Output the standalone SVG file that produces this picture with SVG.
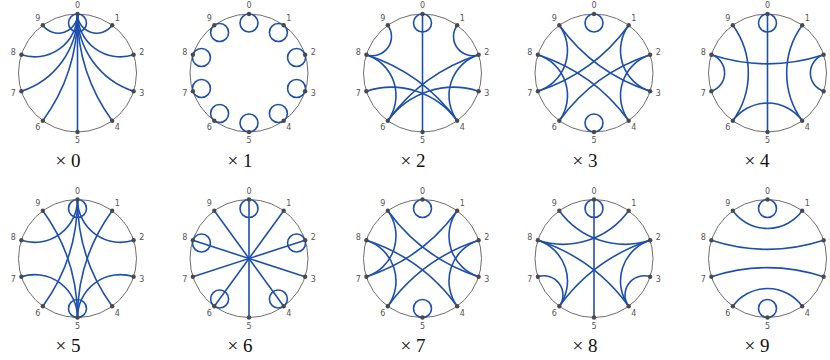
<svg xmlns="http://www.w3.org/2000/svg" xmlns:xlink="http://www.w3.org/1999/xlink" width="830" height="360" viewBox="0 0 830 360">
<style>
.ring{fill:none;stroke:#6e6e6e;stroke-width:1}
.dot{fill:#4a4a4a}
.lbl{font-family:"DejaVu Sans",sans-serif;font-size:8px;fill:#555;text-anchor:middle;dominant-baseline:central}
.edges path,.edges circle,.edges line{fill:none;stroke:#1d4fae;stroke-width:1.6}
.cap{font-family:"Liberation Serif",serif;font-size:19px;fill:#111;text-anchor:middle}
</style>
<defs>
<circle id="ring" class="ring" r="59"/>
<g id="nodes">
<g id="n0"><circle class="dot" cx="0" cy="-59" r="2.2"/><text class="lbl" x="0" y="-67.5">0</text></g>
<g id="n1"><circle class="dot" cx="34.68" cy="-47.73" r="2.2"/><text class="lbl" x="39.68" y="-54.61">1</text></g>
<g id="n2"><circle class="dot" cx="56.11" cy="-18.23" r="2.2"/><text class="lbl" x="64.2" y="-20.86">2</text></g>
<g id="n3"><circle class="dot" cx="56.11" cy="18.23" r="2.2"/><text class="lbl" x="64.2" y="20.86">3</text></g>
<g id="n4"><circle class="dot" cx="34.68" cy="47.73" r="2.2"/><text class="lbl" x="39.68" y="54.61">4</text></g>
<g id="n5"><circle class="dot" cx="0" cy="59" r="2.2"/><text class="lbl" x="0" y="67.5">5</text></g>
<g id="n6"><circle class="dot" cx="-34.68" cy="47.73" r="2.2"/><text class="lbl" x="-39.68" y="54.61">6</text></g>
<g id="n7"><circle class="dot" cx="-56.11" cy="18.23" r="2.2"/><text class="lbl" x="-64.2" y="20.86">7</text></g>
<g id="n8"><circle class="dot" cx="-56.11" cy="-18.23" r="2.2"/><text class="lbl" x="-64.2" y="-20.86">8</text></g>
<g id="n9"><circle class="dot" cx="-34.68" cy="-47.73" r="2.2"/><text class="lbl" x="-39.68" y="-54.61">9</text></g>
</g>
</defs>

<g id="mul0" transform="translate(77.5,73)">
<use xlink:href="#ring" href="#ring"/>
<g class="edges">
<circle cx="0" cy="-50" r="9"/>
<path d="M34.68,-47.73 A19.17,19.17 0 0 1 0,-59"/>
<path d="M56.11,-18.23 A42.87,42.87 0 0 1 0,-59"/>
<path d="M56.11,18.23 A81.21,81.21 0 0 1 0,-59"/>
<path d="M34.68,47.73 A181.58,181.58 0 0 1 0,-59"/>
<path d="M0,59 L0,-59"/>
<path d="M-34.68,47.73 A181.58,181.58 0 0 0 0,-59"/>
<path d="M-56.11,18.23 A81.21,81.21 0 0 0 0,-59"/>
<path d="M-56.11,-18.23 A42.87,42.87 0 0 0 0,-59"/>
<path d="M-34.68,-47.73 A19.17,19.17 0 0 0 0,-59"/>
</g>
<use xlink:href="#nodes" href="#nodes"/>
</g>

<g id="mul1" transform="translate(249,73)">
<use xlink:href="#ring" href="#ring"/>
<g class="edges">
<circle cx="0" cy="-50" r="9"/>
<circle cx="29.39" cy="-40.45" r="9"/>
<circle cx="47.55" cy="-15.45" r="9"/>
<circle cx="47.55" cy="15.45" r="9"/>
<circle cx="29.39" cy="40.45" r="9"/>
<circle cx="0" cy="50" r="9"/>
<circle cx="-29.39" cy="40.45" r="9"/>
<circle cx="-47.55" cy="15.45" r="9"/>
<circle cx="-47.55" cy="-15.45" r="9"/>
<circle cx="-29.39" cy="-40.45" r="9"/>
</g>
<use xlink:href="#nodes" href="#nodes"/>
</g>

<g id="mul2" transform="translate(422.5,73)">
<use xlink:href="#ring" href="#ring"/>
<g class="edges">
<circle cx="0" cy="-50" r="9"/>
<path d="M34.68,-47.73 A19.17,19.17 0 0 0 56.11,-18.23"/>
<path d="M56.11,-18.23 A42.87,42.87 0 0 0 34.68,47.73"/>
<path d="M56.11,18.23 A81.21,81.21 0 0 0 -34.68,47.73"/>
<path d="M34.68,47.73 A181.58,181.58 0 0 0 -56.11,-18.23"/>
<path d="M0,59 L0,-59"/>
<path d="M-34.68,47.73 A181.58,181.58 0 0 1 56.11,-18.23"/>
<path d="M-56.11,18.23 A81.21,81.21 0 0 1 34.68,47.73"/>
<path d="M-56.11,-18.23 A42.87,42.87 0 0 1 -34.68,47.73"/>
<path d="M-34.68,-47.73 A19.17,19.17 0 0 1 -56.11,-18.23"/>
</g>
<use xlink:href="#nodes" href="#nodes"/>
</g>

<g id="mul3" transform="translate(594,73)">
<use xlink:href="#ring" href="#ring"/>
<g class="edges">
<circle cx="0" cy="-50" r="9"/>
<circle cx="0" cy="50" r="9"/>
<path d="M34.68,-47.73 A42.87,42.87 0 0 0 56.11,18.23"/>
<path d="M56.11,-18.23 A181.58,181.58 0 0 0 -34.68,47.73"/>
<path d="M56.11,18.23 A181.58,181.58 0 0 1 -34.68,-47.73"/>
<path d="M34.68,47.73 A42.87,42.87 0 0 1 56.11,-18.23"/>
<path d="M-34.68,47.73 A42.87,42.87 0 0 0 -56.11,-18.23"/>
<path d="M-56.11,18.23 A181.58,181.58 0 0 0 34.68,-47.73"/>
<path d="M-56.11,-18.23 A181.58,181.58 0 0 1 34.68,47.73"/>
<path d="M-34.68,-47.73 A42.87,42.87 0 0 1 -56.11,18.23"/>
</g>
<use xlink:href="#nodes" href="#nodes"/>
</g>

<g id="mul4" transform="translate(767.5,73)">
<use xlink:href="#ring" href="#ring"/>
<g class="edges">
<circle cx="0" cy="-50" r="9"/>
<path d="M34.68,-47.73 A81.21,81.21 0 0 0 34.68,47.73"/>
<path d="M56.11,-18.23 A181.58,181.58 0 0 1 -56.11,-18.23"/>
<path d="M56.11,18.23 A19.17,19.17 0 0 1 56.11,-18.23"/>
<path d="M34.68,47.73 A42.87,42.87 0 0 0 -34.68,47.73"/>
<path d="M0,59 L0,-59"/>
<path d="M-56.11,18.23 A19.17,19.17 0 0 0 -56.11,-18.23"/>
<path d="M-34.68,-47.73 A81.21,81.21 0 0 1 -34.68,47.73"/>
</g>
<use xlink:href="#nodes" href="#nodes"/>
</g>

<g id="mul5" transform="translate(77.5,258.5)">
<use xlink:href="#ring" href="#ring"/>
<g class="edges">
<circle cx="0" cy="-50" r="9"/>
<circle cx="0" cy="50" r="9"/>
<path d="M34.68,-47.73 A181.58,181.58 0 0 0 0,59"/>
<path d="M56.11,-18.23 A42.87,42.87 0 0 1 0,-59"/>
<path d="M56.11,18.23 A42.87,42.87 0 0 0 0,59"/>
<path d="M34.68,47.73 A181.58,181.58 0 0 1 0,-59"/>
<path d="M-34.68,47.73 A181.58,181.58 0 0 0 0,-59"/>
<path d="M-56.11,18.23 A42.87,42.87 0 0 1 0,59"/>
<path d="M-56.11,-18.23 A42.87,42.87 0 0 0 0,-59"/>
<path d="M-34.68,-47.73 A181.58,181.58 0 0 1 0,59"/>
</g>
<use xlink:href="#nodes" href="#nodes"/>
</g>

<g id="mul6" transform="translate(249,258.5)">
<use xlink:href="#ring" href="#ring"/>
<g class="edges">
<circle cx="0" cy="-50" r="9"/>
<circle cx="47.55" cy="-15.45" r="9"/>
<circle cx="29.39" cy="40.45" r="9"/>
<circle cx="-29.39" cy="40.45" r="9"/>
<circle cx="-47.55" cy="-15.45" r="9"/>
<path d="M34.68,-47.73 L-34.68,47.73"/>
<path d="M56.11,18.23 L-56.11,-18.23"/>
<path d="M0,59 L0,-59"/>
<path d="M-56.11,18.23 L56.11,-18.23"/>
<path d="M-34.68,-47.73 L34.68,47.73"/>
</g>
<use xlink:href="#nodes" href="#nodes"/>
</g>

<g id="mul7" transform="translate(422.5,258.5)">
<use xlink:href="#ring" href="#ring"/>
<g class="edges">
<circle cx="0" cy="-50" r="9"/>
<circle cx="0" cy="50" r="9"/>
<path d="M34.68,-47.73 A181.58,181.58 0 0 1 -56.11,18.23"/>
<path d="M56.11,-18.23 A42.87,42.87 0 0 0 34.68,47.73"/>
<path d="M56.11,18.23 A42.87,42.87 0 0 1 34.68,-47.73"/>
<path d="M34.68,47.73 A181.58,181.58 0 0 0 -56.11,-18.23"/>
<path d="M-34.68,47.73 A181.58,181.58 0 0 1 56.11,-18.23"/>
<path d="M-56.11,18.23 A42.87,42.87 0 0 0 -34.68,-47.73"/>
<path d="M-56.11,-18.23 A42.87,42.87 0 0 1 -34.68,47.73"/>
<path d="M-34.68,-47.73 A181.58,181.58 0 0 0 56.11,18.23"/>
</g>
<use xlink:href="#nodes" href="#nodes"/>
</g>

<g id="mul8" transform="translate(594,258.5)">
<use xlink:href="#ring" href="#ring"/>
<g class="edges">
<circle cx="0" cy="-50" r="9"/>
<path d="M0,59 L0,-59"/>
<path d="M34.68,-47.73 A81.21,81.21 0 0 1 -56.11,-18.23"/>
<path d="M56.11,-18.23 A181.58,181.58 0 0 0 -34.68,47.73"/>
<path d="M56.11,18.23 A19.17,19.17 0 0 0 34.68,47.73"/>
<path d="M34.68,47.73 A42.87,42.87 0 0 1 56.11,-18.23"/>
<path d="M-34.68,47.73 A42.87,42.87 0 0 0 -56.11,-18.23"/>
<path d="M-56.11,18.23 A19.17,19.17 0 0 1 -34.68,47.73"/>
<path d="M-56.11,-18.23 A181.58,181.58 0 0 1 34.68,47.73"/>
<path d="M-34.68,-47.73 A81.21,81.21 0 0 0 56.11,-18.23"/>
</g>
<use xlink:href="#nodes" href="#nodes"/>
</g>

<g id="mul9" transform="translate(767.5,258.5)">
<use xlink:href="#ring" href="#ring"/>
<g class="edges">
<circle cx="0" cy="-50" r="9"/>
<circle cx="0" cy="50" r="9"/>
<path d="M34.68,-47.73 A42.87,42.87 0 0 1 -34.68,-47.73"/>
<path d="M56.11,-18.23 A181.58,181.58 0 0 1 -56.11,-18.23"/>
<path d="M56.11,18.23 A181.58,181.58 0 0 0 -56.11,18.23"/>
<path d="M34.68,47.73 A42.87,42.87 0 0 0 -34.68,47.73"/>
</g>
<use xlink:href="#nodes" href="#nodes"/>
</g>

<g id="captions">
<text class="cap" x="68" y="167">× 0</text>
<text class="cap" x="240" y="167">× 1</text>
<text class="cap" x="413" y="167">× 2</text>
<text class="cap" x="585" y="167">× 3</text>
<text class="cap" x="757" y="167">× 4</text>
<text class="cap" x="68" y="352">× 5</text>
<text class="cap" x="240" y="352">× 6</text>
<text class="cap" x="413" y="352">× 7</text>
<text class="cap" x="585" y="352">× 8</text>
<text class="cap" x="757" y="352">× 9</text>
</g>
</svg>
